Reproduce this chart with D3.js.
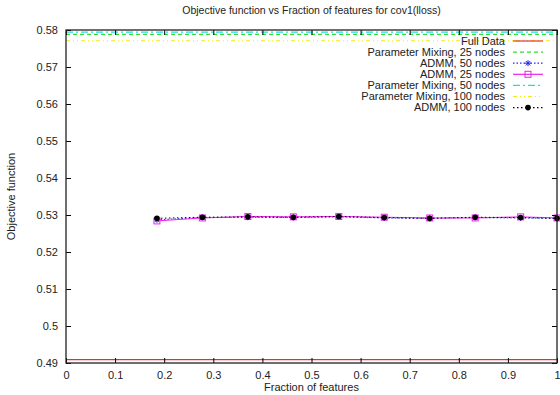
<!DOCTYPE html>
<html>
<head>
<meta charset="utf-8">
<script src="https://cdn.jsdelivr.net/npm/d3@7"></script>
<style>
  body { margin: 0; background: #fff; }
  text { font-family: "Liberation Sans", Arial, sans-serif; fill: #222; }
</style>
</head>
<body>
<div id="chart"></div>
<script>
// number of features used, out of 54
const featureCounts = [10, 15, 20, 25, 30, 35, 40, 45, 50, 54];
const totalFeatures = 54;
const fractions = featureCounts.map(d => d / totalFeatures);

const fullData = 0.4909;
const pmix25 = 0.5788;
const pmix50 = 0.5794;
const pmix100 = 0.5771;

const admm50 = [0.5287, 0.5293, 0.5294, 0.5293, 0.5295, 0.5292, 0.5291, 0.5293, 0.5292, 0.5291];
const admm25 = [0.5284, 0.5292, 0.5296, 0.5295, 0.5296, 0.5294, 0.5292, 0.5292, 0.5295, 0.5292];
const admm100 = [0.5291, 0.5294, 0.5295, 0.5294, 0.5296, 0.5293, 0.5291, 0.5294, 0.5293, 0.5291];

const xTicks = [0, 0.1, 0.2, 0.3, 0.4, 0.5, 0.6, 0.7, 0.8, 0.9, 1];
const yTicks = [0.49, 0.5, 0.51, 0.52, 0.53, 0.54, 0.55, 0.56, 0.57, 0.58];

const margin = { top: 30, right: 3, bottom: 32, left: 66 },
      width = 560 - margin.left - margin.right,
      height = 395 - margin.top - margin.bottom;

const svg = d3.select("#chart").append("svg")
  .attr("width", 560)
  .attr("height", 395);

const g = svg.append("g")
  .attr("transform", `translate(${margin.left},${margin.top})`);

const x = d3.scaleLinear().domain([0, 1]).range([0, width]);
const y = d3.scaleLinear().domain([0.49, 0.58]).range([height, 0]);

// horizontal reference lines
const hlines = [
  { v: fullData, color: "#e8302a", dash: null },
  { v: pmix25, color: "#33dd33", dash: "4,3" },
  { v: pmix50, color: "#22dddd", dash: "7,3,2,3" },
  { v: pmix100, color: "#eeee11", dash: "4,3,1,3,1,3" }
];
g.selectAll("line.hline")
  .data(hlines)
  .enter()
  .append("line")
  .attr("class", "hline")
  .attr("x1", x(0))
  .attr("x2", x(1))
  .attr("y1", d => y(d.v))
  .attr("y2", d => y(d.v))
  .attr("stroke", d => d.color)
  .attr("stroke-width", 1.2)
  .attr("stroke-dasharray", d => d.dash);

const line = d3.line()
  .x(d => x(d.x))
  .y(d => y(d.y));

const series = [
  { vals: admm50, color: "#2222ee", dash: "1.5,2", marker: "star" },
  { vals: admm25, color: "#ee22ee", dash: null, marker: "square" },
  { vals: admm100, color: "#000", dash: "1.5,2.5", marker: "circle" }
];

series.forEach(s => {
  const pts = fractions.map((f, i) => ({ x: f, y: s.vals[i] }));
  g.append("path")
    .datum(pts)
    .attr("fill", "none")
    .attr("stroke", s.color)
    .attr("stroke-width", 1)
    .attr("stroke-dasharray", s.dash)
    .attr("d", line);
  drawMarkers(g, pts.map(p => [x(p.x), y(p.y)]), s);
});

function drawMarkers(sel, pts, s) {
  pts.forEach(([px, py]) => drawMarker(sel, px, py, s));
}

function drawMarker(sel, px, py, s) {
  if (s.marker === "star") {
    sel.append("path")
      .attr("d", `M${px-3},${py}H${px+3}M${px},${py-3}V${py+3}M${px-2.2},${py-2.2}L${px+2.2},${py+2.2}M${px-2.2},${py+2.2}L${px+2.2},${py-2.2}`)
      .attr("stroke", s.color)
      .attr("stroke-width", 1);
  } else if (s.marker === "square") {
    sel.append("rect")
      .attr("x", px - 3).attr("y", py - 3)
      .attr("width", 6).attr("height", 6)
      .attr("fill", "none")
      .attr("stroke", s.color)
      .attr("stroke-width", 1);
  } else {
    sel.append("circle")
      .attr("cx", px).attr("cy", py).attr("r", 2.8)
      .attr("fill", s.color);
  }
}

// ticks on all four sides, pointing inward
const tickLen = 5;
g.append("g").attr("transform", `translate(0,${height})`)
  .call(d3.axisBottom(x).tickValues(xTicks).tickSizeInner(-tickLen).tickSizeOuter(0).tickPadding(8).tickFormat(d3.format("")));
g.append("g")
  .call(d3.axisTop(x).tickValues(xTicks).tickSizeInner(-tickLen).tickSizeOuter(0).tickFormat(""));
g.append("g")
  .call(d3.axisLeft(y).tickValues(yTicks).tickSizeInner(-tickLen).tickSizeOuter(0).tickPadding(8).tickFormat(d3.format("")));
g.append("g").attr("transform", `translate(${width},0)`)
  .call(d3.axisRight(y).tickValues(yTicks).tickSizeInner(-tickLen).tickSizeOuter(0).tickFormat(""));

g.selectAll(".domain").remove();
g.selectAll(".tick line").attr("stroke", "#000");
g.selectAll(".tick text").style("font-size", "11px").style("fill", "#222");

g.append("rect")
  .attr("width", width)
  .attr("height", height)
  .attr("fill", "none")
  .attr("stroke", "#222")
  .attr("stroke-width", 1.3);

// legend
const legend = [
  { label: "Full Data", color: "#e8302a", dash: null },
  { label: "Parameter Mixing, 25 nodes", color: "#33dd33", dash: "4,3" },
  { label: "ADMM, 50 nodes", color: "#2222ee", dash: "1.5,2", marker: "star" },
  { label: "ADMM, 25 nodes", color: "#ee22ee", dash: null, marker: "square" },
  { label: "Parameter Mixing, 50 nodes", color: "#22dddd", dash: "7,3,2,3" },
  { label: "Parameter Mixing, 100 nodes", color: "#eeee11", dash: "4,3,1,3,1,3" },
  { label: "ADMM, 100 nodes", color: "#000", dash: "1.5,2.5", marker: "circle" }
];
const legG = svg.append("g");
legend.forEach((d, i) => {
  const ly = 41 + i * 11.1;
  legG.append("text")
    .attr("x", 505)
    .attr("y", ly)
    .attr("dy", "0.35em")
    .attr("text-anchor", "end")
    .style("font-size", "11px")
    .text(d.label);
  legG.append("line")
    .attr("x1", 513).attr("x2", 543)
    .attr("y1", ly).attr("y2", ly)
    .attr("stroke", d.color)
    .attr("stroke-width", 1.2)
    .attr("stroke-dasharray", d.dash);
  if (d.marker) drawMarker(legG, 528, ly, d);
});

svg.append("text")
  .attr("x", margin.left + width / 2)
  .attr("y", 14)
  .attr("text-anchor", "middle")
  .style("font-size", "10.5px")
  .text("Objective function vs Fraction of features for cov1(lloss)");

svg.append("text")
  .attr("x", margin.left + width / 2)
  .attr("y", 391)
  .attr("text-anchor", "middle")
  .style("font-size", "11px")
  .text("Fraction of features");

svg.append("text")
  .attr("transform", `translate(15,${margin.top + height / 2}) rotate(-90)`)
  .attr("text-anchor", "middle")
  .style("font-size", "11px")
  .text("Objective function");
</script>
</body>
</html>
